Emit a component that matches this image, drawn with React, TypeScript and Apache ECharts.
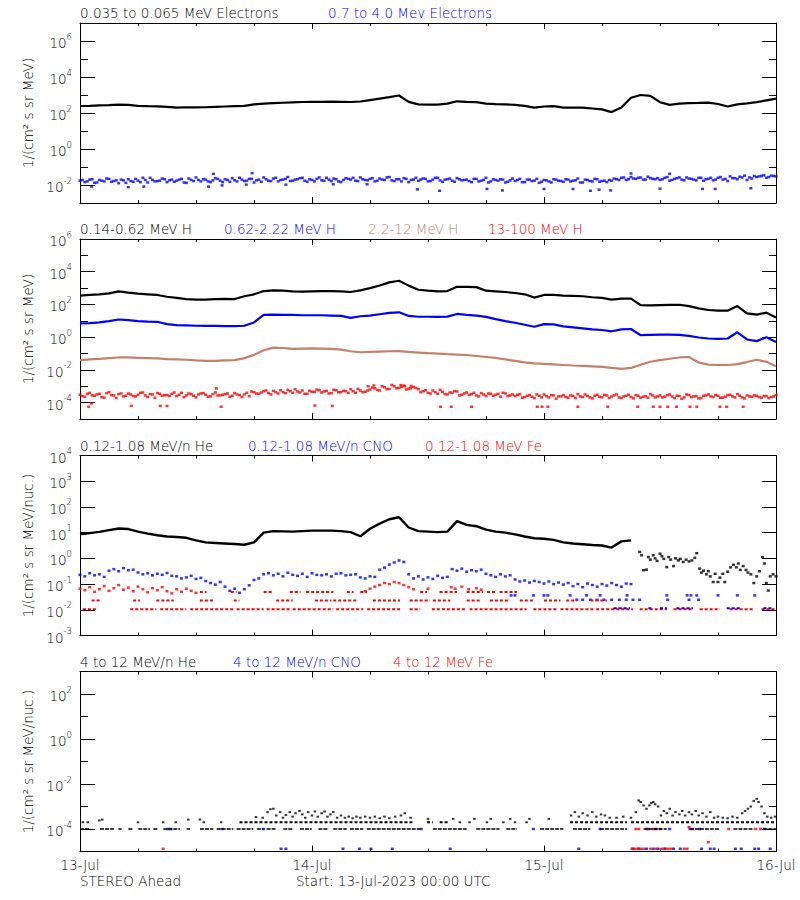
import { useEffect, useRef } from "react";
import * as echarts from "echarts";

// ---------------- DATA (log10 of flux, in hundredths) ----------------
const xDayLabels = ["13-Jul", "14-Jul", "15-Jul", "16-Jul"];
const xDayValues = [0, 24, 48, 72];

// Panel 1: electrons. hourly values h0..h72
const eLowHourly = [239,240,242,244,247,245,240,238,237,234,230,232,231,232,234,236,238,240,248,252,255,257,259,261,262,262,263,262,261,264,272,280,288,297,262,248,247,247,252,265,262,260,252,249,248,245,240,230,236,238,230,230,230,225,220,205,230,285,300,295,260,245,252,255,256,258,250,236,248,253,260,270,280];
// 30-min values h0..h72
const eHighA = [-176,-184,-170,-188,-172,-180,-166,-178,-190,-174,-168,-182,-176,-160,-186,-172,-178,-164,-184,-170,-176,-166,-188,-172,-158,-180,-170,-184,-162,-176,-168,-182,-174,-160,-178,-166,-186,-170,-158,-176,-164,-180,-170,-156,-176,-168,-160,-182,-172,-166,-174,-160,-178,-168,-184,-162,-170,-176,-158,-172,-166,-180,-164,-172,-156,-178,-168,-162,-184,-170,-176,-164,-180,-170,-160,-182,-168,-176,-162,-174,-170,-184,-166,-176,-160,-180,-172,-168,-186,-174,-178,-166,-184,-170,-176,-188,-172,-180,-168,-176,-182,-170,-176,-164,-186,-172,-180,-168,-178,-184,-176,-168,-160,-172,-156,-166,-158,-170,-162,-168,-172,-160,-176,-166,-158,-174,-164,-170,-160,-176,-166,-174,-160,-170,-178,-162,-168,-158,-172,-164,-156,-150,-160,-148,-152];
// 30-min values h0.25..h71.75
const eHighB = [-172,-180,-168,-186,-176,-164,-182,-174,-170,-188,-178,-166,-184,-172,-160,-180,-176,-168,-174,-182,-170,-186,-164,-178,-172,-168,-180,-174,-166,-184,-172,-162,-180,-170,-176,-166,-174,-182,-168,-178,-160,-172,-166,-178,-170,-162,-176,-168,-180,-158,-176,-170,-164,-180,-172,-166,-160,-178,-168,-174,-162,-176,-170,-158,-174,-168,-180,-166,-172,-160,-170,-166,-178,-160,-174,-170,-164,-182,-168,-172,-178,-166,-180,-172,-186,-168,-176,-170,-182,-164,-172,-184,-170,-178,-166,-182,-174,-186,-170,-178,-168,-180,-174,-186,-170,-178,-166,-182,-176,-172,-164,-172,-158,-168,-164,-160,-170,-154,-166,-162,-168,-156,-172,-162,-170,-158,-166,-174,-160,-168,-160,-170,-156,-166,-152,-162,-154,-148,-158,-150,-152,-146,-156,-150];
// [hour, value]
const eHighOutliers = [[1.2,-209],[5,-212],[6.6,-209],[13.3,-209],[14.7,-202],[17.2,-198],[21.3,-198],[26.2,-196],[29.7,-196],[34.9,-224],[37.2,-232],[42.1,-222],[43.7,-230],[48,-222],[51,-222],[52.8,-232],[53.7,-226],[54.9,-230],[60,-220],[64.4,-222],[65.7,-222],[69.4,-218],[13.8,-138],[17.8,-134],[57,-136],[61,-138]];

// Panel 2: protons. hourly h0..h72
const hLowHourly = [254,258,262,268,280,272,266,262,258,247,240,233,229,230,232,234,233,250,262,282,286,284,280,278,280,282,282,280,276,286,300,316,335,345,315,290,284,280,282,308,308,306,284,280,276,270,262,242,258,258,254,252,250,244,240,230,236,236,196,194,196,197,198,190,176,166,162,162,190,146,138,150,120];
const hMidHourly = [84,86,90,98,108,104,98,95,94,80,74,72,70,69,69,68,68,70,90,136,138,136,136,134,134,134,132,130,118,128,132,140,148,152,130,125,125,124,126,142,136,132,124,110,98,88,76,64,80,78,66,60,54,48,44,36,48,50,12,14,16,16,14,8,-2,-8,-10,-8,30,-14,-24,0,-30];
const hHighHourly = [-140,-136,-132,-128,-124,-124,-126,-128,-130,-134,-136,-138,-142,-145,-145,-142,-140,-128,-108,-80,-64,-66,-72,-70,-68,-70,-72,-76,-86,-92,-90,-88,-86,-85,-90,-94,-98,-101,-104,-106,-109,-115,-121,-127,-136,-145,-154,-160,-163,-166,-170,-173,-175,-178,-181,-188,-194,-188,-168,-150,-140,-132,-124,-121,-155,-168,-170,-170,-165,-152,-138,-150,-178];
// 30-min h0..h72 and h0.25..h71.75
const hTopA = [-352,-364,-340,-358,-346,-370,-336,-356,-348,-362,-344,-360,-352,-338,-366,-350,-342,-358,-354,-346,-360,-340,-356,-348,-368,-344,-352,-362,-338,-356,-348,-364,-342,-354,-350,-360,-336,-346,-330,-342,-328,-344,-336,-322,-340,-332,-326,-346,-334,-320,-338,-328,-342,-324,-336,-330,-318,-340,-326,-334,-320,-312,-326,-306,-316,-300,-310,-296,-314,-304,-318,-330,-340,-326,-346,-334,-350,-340,-332,-352,-338,-348,-356,-342,-360,-346,-352,-364,-344,-356,-360,-348,-366,-354,-372,-358,-350,-368,-356,-362,-354,-370,-358,-348,-366,-360,-374,-352,-368,-356,-362,-350,-372,-358,-366,-354,-370,-360,-348,-368,-356,-364,-350,-372,-360,-368,-354,-362,-374,-358,-350,-366,-358,-370,-354,-362,-348,-368,-356,-364,-358,-370,-360,-366,-354];
const hTopB = [-360,-346,-356,-350,-366,-342,-354,-372,-344,-358,-350,-362,-340,-356,-348,-370,-346,-354,-360,-338,-352,-366,-344,-358,-350,-342,-364,-348,-356,-352,-344,-358,-350,-366,-340,-332,-344,-338,-326,-350,-336,-324,-342,-330,-318,-338,-346,-328,-334,-324,-332,-344,-322,-336,-328,-340,-330,-316,-336,-326,-308,-322,-300,-318,-292,-312,-304,-320,-298,-310,-336,-324,-344,-336,-322,-348,-338,-330,-356,-344,-352,-340,-362,-350,-344,-358,-346,-340,-360,-350,-352,-370,-358,-364,-350,-368,-360,-354,-376,-362,-366,-356,-372,-362,-350,-368,-358,-364,-352,-372,-356,-368,-362,-352,-374,-358,-364,-370,-356,-362,-368,-354,-362,-358,-376,-350,-366,-360,-372,-356,-362,-354,-370,-364,-352,-368,-358,-374,-362,-356,-366,-360,-372,-362];
const hTopOutliers = [[0.9,-425],[1.2,-405],[5.3,-420],[8.3,-420],[9,-420],[14.6,-425],[24.3,-418],[26.1,-420],[37.3,-425],[38.4,-425],[40.5,-425],[47.3,-425],[47.8,-425],[48.4,-425],[51.5,-425],[54.6,-425],[57.7,-425],[59.3,-425],[60,-425],[60.8,-425],[61.7,-425],[63.1,-425],[63.8,-425],[66.2,-425],[66.9,-425],[68.6,-425],[14.1,-313],[29.8,-300],[30.4,-295],[33.2,-293],[33.6,-300],[34.2,-313]];

// Panel 3: 0.12-1.08 MeV/n ions
const heLowHourly = [94,98,103,110,116,114,104,96,90,85,83,80,70,62,60,58,56,53,62,100,106,105,104,106,108,108,108,106,102,86,115,135,152,160,120,106,104,102,104,145,130,125,112,104,100,93,85,78,76,72,62,58,55,52,50,42,66,70];
const heLowLate = [[57.9,25],[58.1,12],[58.3,-46],[58.6,-44],[58.8,5],[59.0,-5],[59.3,12],[59.5,0],[59.7,-10],[60.0,18],[60.2,8],[60.4,-2],[60.7,-34],[60.9,5],[61.1,-5],[61.4,-30],[61.6,0],[61.9,-8],[62.1,-2],[62.4,-14],[62.7,-5],[63.0,-12],[63.3,-8],[63.6,2],[63.8,20],[64.1,-40],[64.3,-55],[64.5,-48],[64.8,-62],[65.0,-50],[65.2,-70],[65.5,-92],[65.7,-60],[66.0,-92],[66.2,-75],[66.5,-60],[66.7,-92],[67.0,-52],[67.3,-35],[67.6,-25],[67.9,-35],[68.1,-20],[68.3,-45],[68.6,-30],[68.9,-45],[69.1,-55],[69.4,-62],[69.7,-96],[70.0,-70],[70.3,-50],[70.6,5],[70.8,-20],[71.0,-96],[71.2,-125],[71.4,-70],[71.7,-62],[72.0,-70]];
// CNO 30-min h0..h57
const cnoLow = [-64,-70,-58,-66,-62,-72,-48,-42,-50,-38,-46,-44,-55,-62,-58,-66,-60,-64,-57,-68,-70,-78,-74,-68,-80,-76,-88,-96,-102,-92,-110,-126,-118,-134,-120,-105,-84,-78,-62,-58,-66,-60,-70,-56,-64,-68,-60,-72,-58,-64,-66,-62,-70,-60,-58,-66,-64,-62,-74,-78,-70,-72,-44,-36,-24,-16,-8,-14,-62,-78,-70,-82,-74,-80,-68,-76,-72,-42,-48,-40,-52,-46,-50,-44,-60,-66,-72,-62,-70,-66,-82,-90,-86,-94,-88,-92,-98,-90,-100,-94,-102,-96,-108,-100,-112,-98,-104,-110,-100,-106,-96,-104,-110,-98,-100];
const cnoLowLate = [[44.6,-144],[45,-144],[46.9,-144],[48,-144],[48.4,-144],[50.7,-144],[52.4,-144],[53.8,-144],[56.6,-144],[60.7,-144],[62.8,-144],[63.2,-144],[63.8,-144],[66,-144],[68,-144],[69.8,-144],[51.4,-161],[52,-161],[52.8,-161],[53.5,-161],[54.2,-161],[55,-161],[55.8,-161],[56.5,-161],[57.2,-161],[57.9,-161],[60.8,-161],[63,-161],[64,-161]];
const cnoLowFloor = [[55.2,56.9],[58.8,59.3],[60,60.7],[61.7,63.4],[66.9,68.3],[70.7,71.7]];
// Fe 30-min h0..h12
const feLow = [-118,-124,-112,-130,-120,-108,-126,-116,-104,-122,-114,-128,-110,-120,-132,-116,-124,-112,-128,-136,-120,-130,-118,-126,-134];
const feLowPeaks = [[29.5,-128],[30,-118],[30.5,-110],[31,-104],[31.5,-96],[32,-100],[32.5,-92],[33,-96],[33.5,-104],[34,-112],[34.5,-120],[36,-118],[38.4,-112],[38.8,-118],[39.5,-110],[40.2,-120],[41,-116],[41.5,-122]];
const feRow131 = [[12.4,13.1],[15.6,16.2],[19,20],[21.7,22.8],[23.4,26.2],[27.6,28.3],[29,29.7],[35.2,35.9],[37.2,39],[40,41.7],[42.1,43.1],[43.4,45.2]];
const feRow164 = [[1.2,2.1],[5.5,6.2],[7.9,9.7],[12.4,13.8],[15.9,16.5],[20.3,22],[24.3,26],[26.2,28.6],[30.3,33.1],[34.1,36.2],[36.5,38.3],[40,41.4],[42.4,44.5],[45.5,46.9],[48,49.7],[50.3,51.4],[52.8,54.5]];
const feRow198 = [[0.3,1.7],[5.2,7.9],[8.3,11],[11.4,15.9],[16.2,19],[19.3,21.7],[22,26.2],[26.5,29.3],[29.7,33.1],[34.1,35.2],[36.4,40],[40.3,46.2],[46.9,49.3],[49.7,53.1],[53.4,57.2],[57.9,60.7],[61.4,63.4],[64.1,66.2],[67.2,69.7],[70.5,72]];

// Panel 4: 4 to 12 MeV/n ions
const heHighFloor = [[0,1.03],[2.07,3.62],[3.96,4.31],[5.0,5.5],[6.03,7.24],[7.59,8.1],[8.62,10.34],[11.03,11.38],[12.41,13.79],[14.14,15.86],[16.2,17.93],[18.3,18.97],[19.3,20.34],[21.03,22.07],[22.76,23.97],[24.66,25.7],[26.2,27.6],[27.93,29.31],[29.66,35.2],[36.5,40],[41,43.4],[44.1,45.2],[47.6,50],[51,52.8],[53.8,56.6],[58.3,60.7],[63.1,66.2],[67.6,69.7],[70.7,72]];
const heHighRow = [[16.5,34.5],[35.9,36.5],[37.2,38.1],[50.7,56.6],[57,72]];
const heHighDots = [[0.3,-370],[0.8,-370],[2,-362],[2.3,-358],[6,-370],[8.6,-370],[9.9,-370],[11.2,-358],[12.4,-358],[12.8,-370],[14.6,-370],[39.3,-370],[40.3,-370],[42.1,-370],[43.8,-370],[45,-370],[46.2,-370],[36.0,-355],[38.6,-355],[40.8,-355],[42.5,-355],[44.5,-355],[46.5,-355],[48.5,-355],[18.2,-347],[18.9,-350],[19.4,-325],[19.7,-312],[20.0,-310],[20.3,-340],[20.7,-325],[21.0,-350],[21.3,-338],[21.7,-325],[22.0,-345],[22.3,-330],[22.7,-320],[23.0,-335],[23.3,-350],[23.6,-325],[24.0,-340],[24.3,-322],[24.6,-345],[25.0,-330],[25.3,-322],[25.6,-345],[25.9,-335],[26.2,-325],[26.6,-350],[27.0,-340],[27.4,-350],[27.8,-345],[28.2,-352],[28.6,-345],[29.0,-350],[29.5,-345],[30.0,-350],[30.5,-345],[31.0,-352],[31.5,-345],[32.0,-352],[32.6,-345],[33.2,-340],[33.6,-330],[34.2,-350],[50.8,-340],[51.2,-325],[51.6,-345],[52.0,-330],[52.5,-340],[53.0,-325],[53.4,-345],[53.9,-335],[54.3,-340],[54.8,-350],[55.5,-350],[56.2,-345],[57.0,-350],[57.5,-325],[57.8,-273],[58.0,-280],[58.3,-295],[58.6,-310],[58.9,-295],[59.1,-285],[59.3,-280],[59.5,-290],[59.8,-300],[60.1,-340],[60.4,-320],[60.7,-330],[61.0,-310],[61.3,-340],[61.6,-325],[62.0,-335],[62.3,-320],[62.6,-340],[63.0,-325],[63.3,-335],[63.7,-320],[64.0,-340],[64.4,-330],[64.8,-345],[65.2,-325],[65.6,-350],[66.0,-345],[66.5,-350],[67.0,-352],[67.5,-345],[68.0,-350],[68.5,-330],[68.8,-320],[69.1,-310],[69.4,-300],[69.7,-275],[70.0,-266],[70.2,-280],[70.5,-300],[70.8,-330],[71.1,-345],[71.5,-350],[71.9,-345]];
const cnoHighDots = [[20.8,-488],[21.3,-488],[27.2,-488],[28.9,-488],[30.1,-488],[32.3,-488],[38.3,-488],[51.6,-488],[57.2,-488],[57.8,-488],[58.6,-488],[59.3,-488],[59.8,-488],[60.5,-488],[61.4,-488],[62.1,-488],[64.3,-488],[65.2,-488],[65.6,-488],[67.8,-488],[68.4,-488],[69.8,-488],[70.2,-488],[71.4,-488],[9.1,-400],[9.4,-400],[14.7,-400],[19,-400],[35.3,-400],[46.9,-400],[53.8,-400],[58.8,-400],[59.6,-400],[61,-400],[63.1,-400],[64.1,-400],[70.8,-400]];
const feHighDots = [[8.6,-488],[57.1,-488],[57.4,-488],[57.7,-488],[58.0,-488],[58.3,-488],[59.0,-488],[59.6,-488],[60.2,-488],[60.5,-488],[60.8,-488],[61.1,-488],[62.5,-488],[62.8,-488],[65,-459],[63,-392],[57.5,-400],[57.8,-400],[58.6,-400],[59.3,-400],[60,-400],[63.4,-400],[67.1,-400],[69.9,-400],[70.4,-400]];

// ---------------- LAYOUT / STYLE ----------------
const FONT = '"DejaVu Sans", sans-serif';
const FW = 300;
const BLACK = "#000000";
const BLUE = "#0000ff";
const TAN = "#c4806a";
const RED = "#ff0000";
const GRID_LEFT = 80;
const GRID_W = 696;
const GRID_H = 180;
const GRID_TOPS = [23, 239, 455.5, 671.5];

const panels = [
  { min: -3, max: 7, majors: [-2, 0, 2, 4, 6], minors: [-1, 1, 3, 5], name: "1/(cm² s sr MeV)",
    titles: [["0.035 to 0.065 MeV Electrons", BLACK, 80], ["0.7 to 4.0 Mev Electrons", BLUE, 328]] },
  { min: -5, max: 6, majors: [-4, -2, 0, 2, 4, 6], minors: [-3, -1, 1, 3, 5], name: "1/(cm² s sr MeV)",
    titles: [["0.14-0.62 MeV H", BLACK, 80], ["0.62-2.22 MeV H", BLUE, 224], ["2.2-12 MeV H", TAN, 368], ["13-100 MeV H", RED, 488]] },
  { min: -3, max: 4, majors: [-3, -2, -1, 0, 1, 2, 3, 4], minors: [] as number[], name: "1/(cm² s sr MeV/nuc.)",
    titles: [["0.12-1.08 MeV/n He", BLACK, 80], ["0.12-1.08 MeV/n CNO", BLUE, 248], ["0.12-1.08 MeV Fe", RED, 425]] },
  { min: -5, max: 3, majors: [-4, -2, 0, 2], minors: [-3, -1, 1], name: "1/(cm² s sr MeV/nuc.)",
    titles: [["4 to 12 MeV/n He", BLACK, 80], ["4 to 12 MeV/n CNO", BLUE, 233], ["4 to 12 MeV Fe", RED, 393]] },
];

const hourly = (vals: number[], start: number, step: number) => vals.map((v, i) => [start + i * step, v / 100]);
const pairs = (vals: number[][]) => vals.map(([h, v]) => [h, v / 100]);
const segs = (ivs: number[][], level: number) => {
  const out: any[] = [];
  ivs.forEach(([a, b]) => { out.push([a, level / 100], [b, level / 100], [b, "-"]); });
  return out;
};

function buildOption() {
  const grid: any[] = [];
  const xAxis: any[] = [];
  const yAxis: any[] = [];
  const series: any[] = [];
  const graphic: any[] = [];

  panels.forEach((p, i) => {
    grid.push({ left: GRID_LEFT, top: GRID_TOPS[i], width: GRID_W, height: GRID_H });
    const lineS = { color: BLACK, width: 1 };
    const baseX = { type: "value", gridIndex: i, min: 0, max: 72, interval: 6, splitLine: { show: false } };
    const isLast = i === panels.length - 1;
    xAxis.push({ ...baseX, position: "bottom", axisLine: { show: true, onZero: false, lineStyle: lineS },
      axisTick: { show: true, inside: true, length: 3, lineStyle: lineS },
      axisLabel: isLast ? { show: true, customValues: xDayValues, margin: 6, fontFamily: FONT, fontWeight: FW, fontSize: 13.5, color: BLACK,
        formatter: (v: number) => xDayLabels[xDayValues.indexOf(v)] ?? "" } : { show: false } });
    xAxis.push({ ...baseX, position: "bottom", axisLine: { show: false, onZero: false },
      axisTick: { show: true, inside: true, length: 6, customValues: [24, 48], lineStyle: lineS }, axisLabel: { show: false } });
    xAxis.push({ ...baseX, position: "top", axisLine: { show: true, onZero: false, lineStyle: lineS },
      axisTick: { show: true, inside: true, length: 3, lineStyle: lineS }, axisLabel: { show: false } });
    xAxis.push({ ...baseX, position: "top", axisLine: { show: false, onZero: false },
      axisTick: { show: true, inside: true, length: 6, customValues: [24, 48], lineStyle: lineS }, axisLabel: { show: false } });

    const baseY = { type: "value", gridIndex: i, min: p.min, max: p.max, splitLine: { show: false } };
    yAxis.push({ ...baseY, position: "left", axisLine: { show: true, onZero: false, lineStyle: lineS },
      axisTick: { show: true, inside: true, length: 15, customValues: p.majors, lineStyle: lineS },
      axisLabel: { show: true, customValues: p.majors, margin: 8, showMinLabel: true, showMaxLabel: true,
        formatter: (v: number) => `{b|10}{s|${v}}`,
        rich: { b: { fontFamily: FONT, fontWeight: FW, fontSize: 13.5, color: BLACK, lineHeight: 18, verticalAlign: "bottom" },
                s: { fontFamily: FONT, fontWeight: FW, fontSize: 8.5, color: BLACK, lineHeight: 18, verticalAlign: "top" } } },
      name: p.name, nameLocation: "middle", nameGap: 39, nameRotate: 90,
      nameTextStyle: { fontFamily: FONT, fontWeight: FW, fontSize: 13.5, color: BLACK } });
    yAxis.push({ ...baseY, position: "left", axisLine: { show: false, onZero: false },
      axisTick: { show: p.minors.length > 0, inside: true, length: 8, customValues: p.minors, lineStyle: lineS }, axisLabel: { show: false } });
    yAxis.push({ ...baseY, position: "right", axisLine: { show: true, onZero: false, lineStyle: lineS },
      axisTick: { show: true, inside: true, length: 14, customValues: p.majors, lineStyle: lineS }, axisLabel: { show: false } });
    yAxis.push({ ...baseY, position: "right", axisLine: { show: false, onZero: false },
      axisTick: { show: p.minors.length > 0, inside: true, length: 7, customValues: p.minors, lineStyle: lineS }, axisLabel: { show: false } });

    p.titles.forEach(([text, color, x]) => {
      graphic.push({ type: "text", x: x as number, y: GRID_TOPS[i] - 10, silent: true,
        style: { text: text as string, fill: color as string, font: `${FW} 13.5px ${FONT}`, align: "left", verticalAlign: "middle" } });
    });
  });

  const ax = (i: number) => ({ xAxisIndex: i * 4, yAxisIndex: i * 4 });
  const line = (i: number, data: any[], color: string, width = 2) =>
    ({ type: "line", ...ax(i), data, symbol: "none", showSymbol: false, color, lineStyle: { color, width }, connectNulls: false, silent: true });
  const dots = (i: number, data: any[], color: string, size: any = [3, 2.5]) =>
    ({ type: "scatter", ...ax(i), data, symbol: "rect", symbolSize: size, itemStyle: { color }, silent: true });
  const row = (i: number, data: any[], color: string) =>
    ({ type: "line", ...ax(i), data, symbol: "none", showSymbol: false, color, lineStyle: { color, width: 2, type: [3, 2] }, connectNulls: false, silent: true });

  // Panel 1
  series.push(line(0, hourly(eLowHourly, 0, 1), BLACK, 2.2));
  series.push(dots(0, hourly(eHighA, 0, 0.5), BLUE));
  series.push(dots(0, hourly(eHighB, 0.25, 0.5), BLUE));
  series.push(dots(0, pairs(eHighOutliers), BLUE));
  // Panel 2
  series.push(line(1, hourly(hLowHourly, 0, 1), BLACK, 2.2));
  series.push(line(1, hourly(hMidHourly, 0, 1), BLUE, 2.2));
  series.push(line(1, hourly(hHighHourly, 0, 1), TAN, 2.2));
  series.push(dots(1, hourly(hTopA, 0, 0.5), RED));
  series.push(dots(1, hourly(hTopB, 0.25, 0.5), RED));
  series.push(dots(1, pairs(hTopOutliers), RED));
  // Panel 3
  series.push(line(2, hourly(heLowHourly, 0, 1), BLACK, 2.4));
  series.push(dots(2, pairs(heLowLate), BLACK));
  series.push(row(2, segs(feRow198, -198), RED));
  series.push(row(2, segs(feRow164, -164), RED));
  series.push(row(2, segs(feRow131, -131), RED));
  series.push(dots(2, hourly(feLow, 0, 0.5), RED));
  series.push(dots(2, pairs(feLowPeaks), RED));
  series.push(dots(2, hourly(cnoLow, 0, 0.5), BLUE));
  series.push(dots(2, pairs(cnoLowLate), BLUE));
  series.push(row(2, segs(cnoLowFloor, -194), BLUE));
  // Panel 4
  series.push({ ...row(3, segs(heHighFloor, -400), BLACK), lineStyle: { color: BLACK, width: 1.5, type: [4, 1] } });
  series.push(row(3, segs(heHighRow, -370), BLACK));
  series.push(dots(3, pairs(heHighDots), BLACK, [2.5, 2]));
  series.push(dots(3, pairs(cnoHighDots), BLUE, [3, 2.5]));
  series.push(dots(3, pairs(feHighDots), RED, [3, 2.5]));

  graphic.push({ type: "text", x: 80, y: 881, silent: true,
    style: { text: "STEREO Ahead", fill: BLACK, font: `${FW} 13.5px ${FONT}`, align: "left", verticalAlign: "middle" } });
  graphic.push({ type: "text", x: 296, y: 881, silent: true,
    style: { text: "Start: 13-Jul-2023 00:00 UTC", fill: BLACK, font: `${FW} 13.5px ${FONT}`, align: "left", verticalAlign: "middle" } });

  return { animation: false, backgroundColor: "#ffffff", grid, xAxis, yAxis, series, graphic };
}

export default function App() {
  const ref = useRef<HTMLDivElement>(null);
  useEffect(() => {
    if (!ref.current) return;
    const chart = echarts.init(ref.current, undefined, { renderer: "svg" });
    chart.setOption(buildOption() as any);
    return () => chart.dispose();
  }, []);
  return <div ref={ref} style={{ position: "fixed", left: 0, top: 0, width: 800, height: 900, background: "#fff" }} />;
}
